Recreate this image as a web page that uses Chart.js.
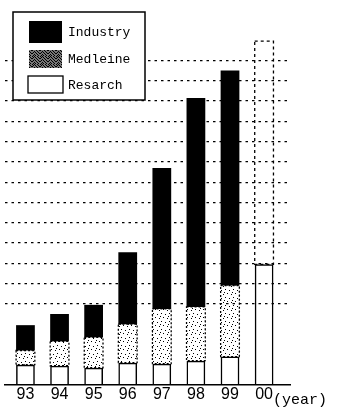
<!DOCTYPE html>
<html>
<head>
<meta charset="utf-8">
<script src="https://cdn.jsdelivr.net/npm/chart.js@4.4.0/dist/chart.umd.min.js"></script>
<style>
html,body{margin:0;padding:0;background:#fff;}
#wrap{width:344px;height:408px;}
</style>
</head>
<body>
<div id="wrap"><canvas id="chart" width="344" height="408"></canvas></div>
<script>
// values (one grid step = 1 unit)
const years = [93, 94, 95, 96, 97, 98, 99, 100];
const yearLabels = ['93', '94', '95', '96', '97', '98', '99', '00'];
const research = [1.0, 0.95, 0.85, 1.1, 1.05, 1.2, 1.4, 5.95];
const medicine = [0.7, 1.2, 1.5, 1.9, 2.7, 2.65, 3.5, null];
const industry = [1.25, 1.35, 1.6, 3.55, 6.95, 10.3, 10.6, null];
const forecast = [null, null, null, null, null, null, null, 11.0];
const gridFrom = 4, gridTo = 16;

// stipple fill for the Medleine part
function stipple(dots, bg) {
  const c = document.createElement('canvas');
  c.width = 8; c.height = 8;
  const g = c.getContext('2d');
  if (bg) { g.fillStyle = bg; g.fillRect(0, 0, 8, 8); }
  g.fillStyle = '#000';
  dots.forEach(d => g.fillRect(d[0], d[1], 1, 1));
  return g.createPattern(c, 'repeat');
}
const lightDots = stipple([[1, 1], [5, 2], [3, 5], [7, 6], [0, 4]]);
const darkDots = stipple([[0,0],[2,0],[5,0],[1,1],[3,1],[6,1],[7,2],[0,2],[4,2],[2,3],[5,3],[1,4],[3,4],[6,4],[0,5],[4,5],[7,5],[2,6],[5,6],[1,7],[3,7],[6,7]], '#777');

const outlines = {
  id: 'outlines',
  afterDatasetsDraw(chart) {
    const c = chart.ctx;
    c.save();
    c.strokeStyle = '#000';
    // dotted edge of the Medleine part
    chart.getDatasetMeta(1).data.forEach((b, i) => {
      if (medicine[i] == null) return;
      c.setLineDash([2, 2]);
      c.lineWidth = 1.3;
      c.strokeRect(b.x - b.width / 2, b.y, b.width, b.base - b.y);
    });
    // dashed box for the 00 estimate
    chart.getDatasetMeta(3).data.forEach((b, i) => {
      if (forecast[i] == null) return;
      c.setLineDash([3, 3]);
      c.lineWidth = 1.3;
      c.strokeRect(b.x - b.width / 2, b.y, b.width, b.base - b.y);
    });
    c.restore();
  },
  afterDraw(chart) {
    const c = chart.ctx;
    c.save();
    // legend box
    c.fillStyle = '#fff';
    c.fillRect(13, 12, 132, 88);
    c.strokeStyle = '#000';
    c.lineWidth = 1.5;
    c.strokeRect(13, 12, 132, 88);
    const rows = [
      { ds: 2, y: 21, h: 22, fill: '#000' },
      { ds: 1, y: 50, h: 18, fill: darkDots },
      { ds: 0, y: 76, h: 17, fill: '#fff', edge: true }
    ];
    c.font = '13px "Liberation Mono"';
    c.textBaseline = 'middle';
    rows.forEach(r => {
      c.fillStyle = r.fill;
      c.fillRect(29, r.y, 33, r.h);
      if (r.edge) { c.lineWidth = 1.3; c.strokeRect(28, r.y, 35, r.h); }
      c.fillStyle = '#000';
      c.fillText(chart.data.datasets[r.ds].label, 68, r.y + r.h / 2 + 1);
    });
    // unit after the last year label
    const xs = chart.scales.x;
    c.font = '15px "Liberation Mono"';
    c.textBaseline = 'alphabetic';
    c.fillText('(year)', xs.getPixelForValue(years[years.length - 1]) + 9, 404);
    c.restore();
  }
};

new Chart(document.getElementById('chart'), {
  type: 'bar',
  data: {
    labels: years,
    datasets: [
      { label: 'Resarch', data: research, backgroundColor: 'rgba(255,255,255,0)', borderColor: '#000', borderWidth: 1.5 },
      { label: 'Medleine', data: medicine, backgroundColor: lightDots, borderWidth: 0 },
      { label: 'Industry', data: industry, backgroundColor: '#000', borderWidth: 0 },
      { label: 'estimate', data: forecast, backgroundColor: 'rgba(255,255,255,0)', borderWidth: 0 }
    ]
  },
  options: {
    responsive: false,
    animation: false,
    layout: { padding: { left: 5, right: 54, top: 30, bottom: 3 } },
    plugins: { legend: { display: false }, tooltip: { enabled: false } },
    datasets: { bar: { barPercentage: 0.55, categoryPercentage: 1 } },
    scales: {
      x: {
        type: 'linear',
        stacked: true,
        offset: false,
        min: 92.4,
        max: 100.76,
        afterBuildTicks: s => { s.ticks = years.map(v => ({ value: v })); },
        grid: { color: 'rgba(0,0,0,0)', drawTicks: false, offset: false },
        border: { display: true, color: '#000', width: 1.5 },
        ticks: {
          padding: 2,
          color: '#000',
          font: { family: 'Liberation Sans', size: 16, lineHeight: 1 },
          callback: (v, i) => yearLabels[i]
        }
      },
      y: {
        stacked: true,
        min: 0,
        max: 17.5,
        ticks: { display: false, stepSize: 1 },
        border: { display: false, dash: [2.5, 4] },
        grid: {
          drawTicks: false,
          lineWidth: 1.2,
          color: c => (Number.isInteger(c.tick.value) && c.tick.value >= gridFrom && c.tick.value <= gridTo) ? '#000' : 'rgba(0,0,0,0)'
        }
      }
    }
  },
  plugins: [outlines]
});
</script>
</body>
</html>
